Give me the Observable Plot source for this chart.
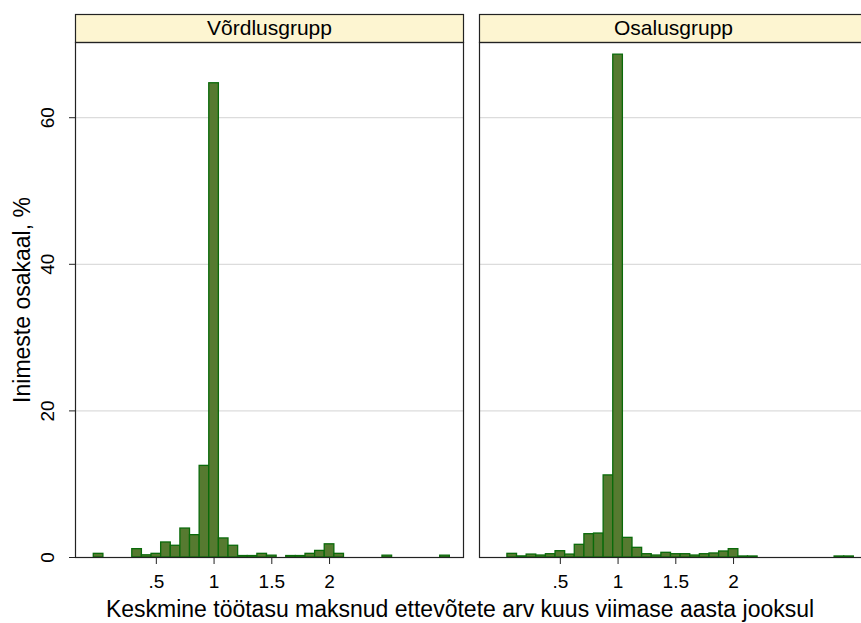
<!DOCTYPE html>
<html>
<head>
<meta charset="utf-8">
<script src="https://cdn.jsdelivr.net/npm/d3@7"></script>
<script src="https://cdn.jsdelivr.net/npm/@observablehq/plot@0.6"></script>
<style>
  body { margin: 0; background: #fff; font-family: "Liberation Sans", Arial, sans-serif; }
  #chart { width: 861px; overflow: hidden; }
  .xtitle { width: 861px; box-sizing: border-box; padding-left: 59px; text-align: center;
            font-size: 23px; color: #000; line-height: 26px; height: 27px; white-space: nowrap; }
</style>
</head>
<body>
<div id="chart"></div>
<script>
// Groups (panels)
const groups = ["Võrdlusgrupp", "Osalusgrupp"];

// Histogram bins are twelfths: average number of paying firms per month over 12 months
const binWidth = 1 / 12;

// Võrdlusgrupp: bin (in twelfths) and share of people, %
const comparisonBins = [0, 4, 5, 6, 7, 8, 9, 10, 11, 12, 13, 14, 15, 16, 17, 18, 20, 21, 22, 23, 24, 25, 30, 36];
const comparisonPct  = [0.5, 1.14, 0.3, 0.5, 2.05, 1.6, 3.95, 3.05, 12.5, 64.7, 2.6, 1.6, 0.2, 0.2, 0.5, 0.25, 0.2, 0.2, 0.5, 0.9, 1.8, 0.5, 0.25, 0.25];

// Osalusgrupp: bin (in twelfths) and share of people, %
const participantBins = [1, 2, 3, 4, 5, 6, 7, 8, 9, 10, 11, 12, 13, 14, 15, 16, 17, 18, 19, 20, 21, 22, 23, 24, 25, 26, 35, 36];
const participantPct  = [0.5, 0.15, 0.4, 0.27, 0.45, 0.86, 0.4, 1.73, 3.18, 3.27, 11.2, 68.6, 2.68, 1.32, 0.45, 0.27, 0.64, 0.45, 0.45, 0.27, 0.45, 0.55, 0.82, 1.14, 0.14, 0.14, 0.14, 0.14];

// Axis ticks
const xTicks = [0.5, 1, 1.5, 2];
const yTicks = [0, 20, 40, 60];

const xTitle = "Keskmine töötasu maksnud ettevõtete arv kuus viimase aasta jooksul";
const yTitle = "Inimeste osakaal, %";

const rows = [
  ...comparisonBins.map((b, i) => ({group: groups[0], value: b / 12, pct: comparisonPct[i]})),
  ...participantBins.map((b, i) => ({group: groups[1], value: b / 12, pct: participantPct[i]}))
];

const svgHeight = 596;
const marginTop = 42;
const marginBottom = 39;
const panelHeight = svgHeight - marginTop - marginBottom; // plot area height in pixels

const chart = Plot.plot({
  width: 861,
  height: svgHeight,
  marginTop,
  marginBottom,
  marginLeft: 74,
  marginRight: -7, // the second panel runs to the page edge
  style: {fontFamily: "Liberation Sans, Arial, sans-serif", color: "#000", background: "#fff"},
  fx: {domain: groups, padding: 0.0395, axis: null},
  x: {domain: [-0.2, 3.16]},
  y: {domain: [0, 70.26]},
  marks: [
    // title strip above each panel
    Plot.frame({fill: "#fdf5d1", stroke: "#222", strokeWidth: 1.2, insetTop: -28, insetBottom: panelHeight}),
    Plot.text(groups, {fx: d => d, text: d => d, frameAnchor: "top", lineAnchor: "middle", dy: -14, fontSize: 21, fill: "#000"}),
    Plot.gridY(yTicks.filter(d => d > 0), {stroke: "#dcdcdc", strokeOpacity: 1, strokeWidth: 1.2}),
    Plot.rectY(rows, {
      fx: "group",
      x1: d => d.value - binWidth / 2,
      x2: d => d.value + binWidth / 2,
      y: "pct",
      fill: "#567a30",
      stroke: "#0a6a0a",
      strokeWidth: 1.3
    }),
    Plot.frame({stroke: "#222", strokeWidth: 1.2}),
    // y ticks, with labels turned to read upward
    Plot.axisY({ticks: yTicks, tickSize: 6, tickFormat: () => "", label: null, stroke: "#222"}),
    Plot.text(yTicks, {fx: () => groups[0], y: d => d, text: d => String(d), frameAnchor: "left",
                       textAnchor: "middle", lineAnchor: "middle", rotate: -90, dx: -28, fontSize: 19, fill: "#000"}),
    Plot.axisX({ticks: xTicks, tickSize: 7, tickPadding: 10, fontSize: 19, label: null, stroke: "#222",
                tickFormat: d => String(d).replace(/^0\./, ".")}),
    Plot.text([yTitle], {fx: () => groups[0], text: d => d, frameAnchor: "left", textAnchor: "middle",
                         lineAnchor: "middle", rotate: -90, dx: -53, fontSize: 23, fill: "#000"})
  ]
});

document.getElementById("chart").appendChild(chart);
const t = document.createElement("div");
t.className = "xtitle";
t.textContent = xTitle;
document.body.appendChild(t);
</script>
</body>
</html>
